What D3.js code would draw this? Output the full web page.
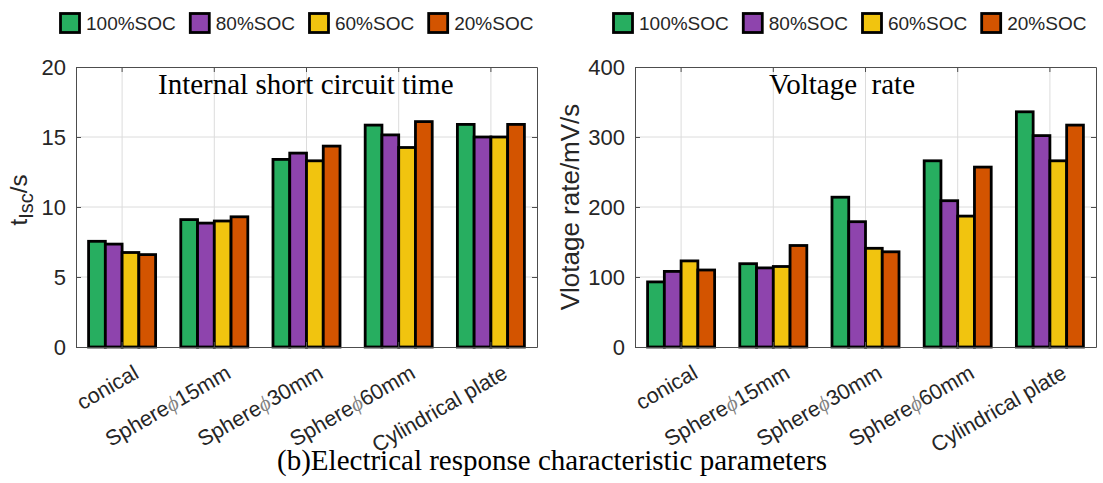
<!DOCTYPE html>
<html>
<head>
<meta charset="utf-8">
<script src="https://cdn.jsdelivr.net/npm/d3@7/dist/d3.min.js"></script>
<style>
  body { margin: 0; background: #fff; }
  text { font-family: 'Liberation Sans', Arial, sans-serif; fill: #262626; }
  .serif { font-family: 'Liberation Serif', 'Times New Roman', serif; fill: #000; }
</style>
</head>
<body>
<div id="chart"></div>
<script>
// categories / series
const categories = ['conical', 'Sphereϕ15mm', 'Sphereϕ30mm', 'Sphereϕ60mm', 'Cylindrical plate'];
const series = ['100%SOC', '80%SOC', '60%SOC', '20%SOC'];
const colors = ['#27ae60', '#8e44ad', '#f1c40f', '#d35400'];

// internal short circuit time (s)
const time100 = [7.55, 9.1, 13.4, 15.85, 15.9];
const time80 = [7.35, 8.85, 13.85, 15.15, 15.0];
const time60 = [6.75, 9.0, 13.3, 14.25, 15.0];
const time20 = [6.6, 9.3, 14.35, 16.1, 15.9];
const timeTicks = [0, 5, 10, 15, 20];

// voltage rate (mV/s)
const rate100 = [93, 119, 214, 266, 336];
const rate80 = [108, 113, 179, 209, 302];
const rate60 = [123, 115, 141, 187, 266];
const rate20 = [110, 145, 136, 257, 317];
const rateTicks = [0, 100, 200, 300, 400];

const W = 1103, H = 483;
const plotTop = 67, plotBottom = 347;

const svg = d3.select('#chart').append('svg')
  .attr('width', W).attr('height', H);
svg.append('rect').attr('width', W).attr('height', H).attr('fill', '#fff');

// 画一个分组柱状图面板
const drawPanel = (p) => {
  const g = svg.append('g');
  const x = d3.scaleBand().domain(categories).range([p.left, p.right]);
  const bw = x.bandwidth();
  const xs = d3.scaleBand().domain(series).range([-bw * 0.727 / 2, bw * 0.727 / 2]);
  const y = d3.scaleLinear().domain([0, p.ticks[p.ticks.length - 1]]).range([plotBottom, plotTop]);
  const cx = (d) => x(d) + bw / 2;

  // grid
  g.append('g').selectAll('line').data(categories).join('line')
    .attr('x1', cx).attr('x2', cx).attr('y1', plotTop).attr('y2', plotBottom)
    .attr('stroke', '#dcdcdc').attr('stroke-width', 1);
  g.append('g').selectAll('line').data(p.ticks.slice(1, -1)).join('line')
    .attr('x1', p.left).attr('x2', p.right)
    .attr('y1', (d) => y(d)).attr('y2', (d) => y(d))
    .attr('stroke', '#dcdcdc').attr('stroke-width', 1);

  // bars
  const rows = [];
  p.values.forEach((vals, si) => {
    vals.forEach((v, ci) => rows.push({ s: series[si], c: categories[ci], v: v, color: colors[si] }));
  });
  g.append('g').selectAll('rect').data(rows).join('rect')
    .attr('x', (d) => cx(d.c) + xs(d.s))
    .attr('width', xs.bandwidth())
    .attr('y', (d) => y(d.v))
    .attr('height', (d) => y(0) - y(d.v))
    .attr('fill', (d) => d.color)
    .attr('stroke', '#000').attr('stroke-width', 2.8);

  // axes (box with inward ticks)
  const styleAxis = (sel) => {
    sel.selectAll('path.domain').attr('stroke', '#4d4d4d');
    sel.selectAll('.tick line').attr('stroke', '#4d4d4d');
  };
  const ya = g.append('g').attr('transform', `translate(${p.left},0)`)
    .call(d3.axisLeft(y).tickValues(p.ticks).tickSizeInner(-5).tickSizeOuter(0).tickPadding(10));
  ya.selectAll('.tick text').style('font-size', '22px').attr('fill', '#262626');
  styleAxis(ya);
  styleAxis(g.append('g').attr('transform', `translate(${p.right},0)`)
    .call(d3.axisRight(y).tickValues(p.ticks).tickSizeInner(-5).tickSizeOuter(0).tickFormat('')));
  styleAxis(g.append('g').attr('transform', `translate(0,${plotBottom})`)
    .call(d3.axisBottom(x).tickSizeInner(-5).tickSizeOuter(0).tickFormat('')));
  styleAxis(g.append('g').attr('transform', `translate(0,${plotTop})`)
    .call(d3.axisTop(x).tickSizeInner(-5).tickSizeOuter(0).tickFormat('')));

  // rotated category labels
  const lab = g.append('g').selectAll('text').data(categories).join('text')
    .attr('transform', (d) => `translate(${cx(d) + 18},377) rotate(-30)`)
    .attr('text-anchor', 'end')
    .style('font-size', '21.5px');
  lab.each(function (d) {
    const t = d3.select(this);
    const parts = d.split('ϕ');
    t.append('tspan').text(parts[0]);
    if (parts.length > 1) {
      t.append('tspan').text('ϕ').attr('fill', '#808080')
        .style('font-family', "'Liberation Serif', serif").style('font-style', 'italic');
      t.append('tspan').text(parts[1]);
    }
  });

  // title
  g.append('text').attr('class', 'serif')
    .attr('x', p.titleX).attr('y', 94)
    .attr('xml:space', 'preserve')
    .style('white-space', 'pre')
    .style('font-size', '29px')
    .text(p.title);

  // legend
  let lx = p.legendX;
  series.forEach((s, i) => {
    g.append('rect').attr('x', lx + 1.5).attr('y', 13.5).attr('width', 19).attr('height', 19)
      .attr('fill', colors[i]).attr('stroke', '#000').attr('stroke-width', 2.8);
    const t = g.append('text').attr('x', lx + 27).attr('y', 29.5)
      .style('font-size', '19px').attr('fill', '#000').text(s);
    lx += 27 + t.node().getComputedTextLength() + 13;
  });

  return g;
};

const leftPanel = drawPanel({
  left: 76, right: 537, ticks: timeTicks,
  values: [time100, time80, time60, time20],
  title: 'Internal short circuit time', titleX: 158, legendX: 59
});
// y label: t_Isc/s
const yl1 = leftPanel.append('text')
  .attr('transform', 'translate(27,200) rotate(-90)')
  .attr('text-anchor', 'middle')
  .style('font-size', '24px');
yl1.append('tspan').text('t');
yl1.append('tspan').text('Isc').attr('dy', 6).style('font-size', '20px');
yl1.append('tspan').text('/s').attr('dy', -6);

const rightPanel = drawPanel({
  left: 635, right: 1096, ticks: rateTicks,
  values: [rate100, rate80, rate60, rate20],
  title: 'Voltage  rate', titleX: 769, legendX: 612
});
rightPanel.append('text')
  .attr('transform', 'translate(579,207) rotate(-90)')
  .attr('text-anchor', 'middle')
  .style('font-size', '26px')
  .text('Vlotage rate/mV/s');

// caption
svg.append('text').attr('class', 'serif')
  .attr('x', 552).attr('y', 470).attr('text-anchor', 'middle')
  .style('font-size', '29px')
  .text('(b)Electrical response characteristic parameters');
</script>
</body>
</html>
